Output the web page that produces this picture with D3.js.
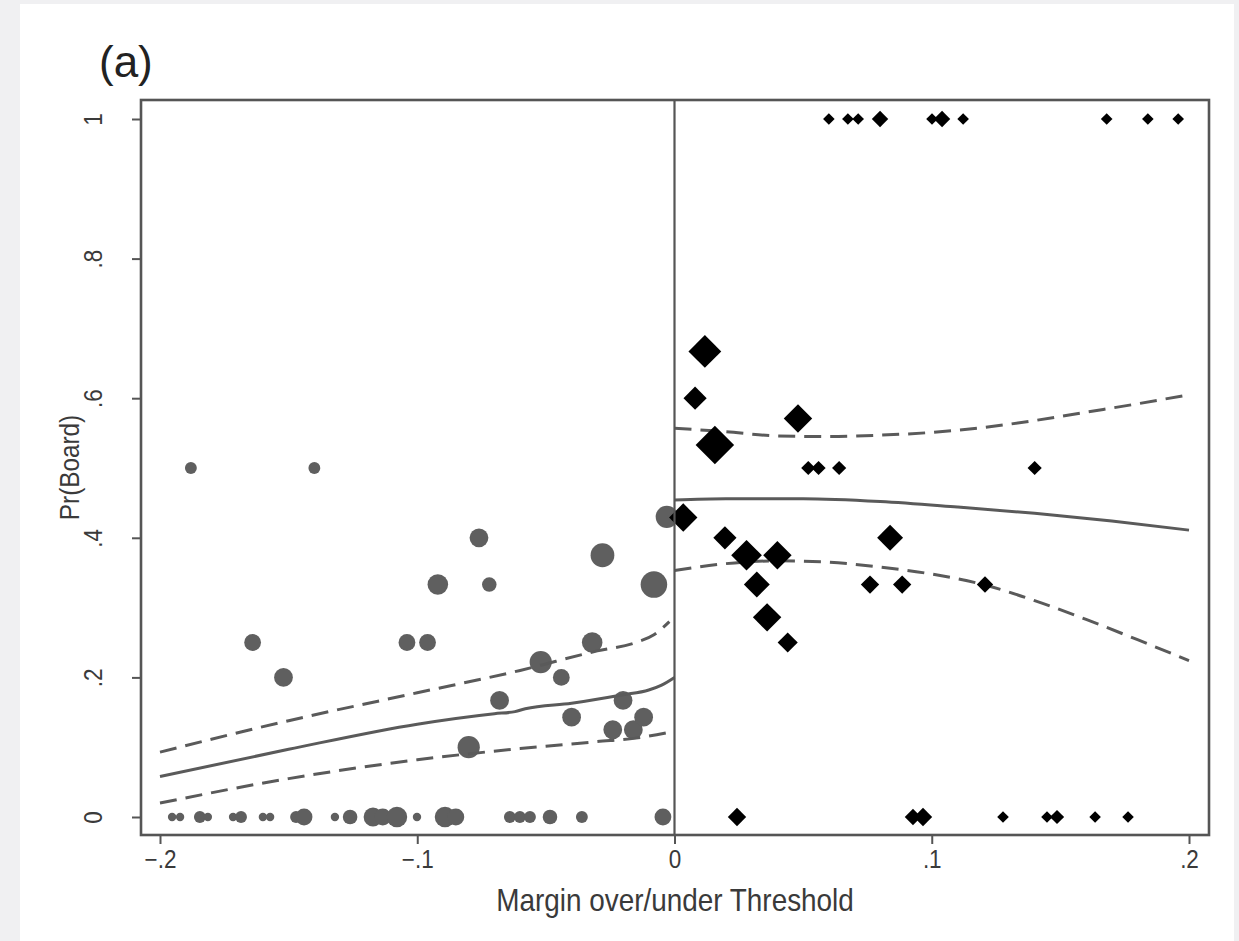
<!DOCTYPE html>
<html>
<head>
<meta charset="utf-8">
<script src="https://cdn.jsdelivr.net/npm/d3@7"></script>
<style>
  html, body { margin: 0; padding: 0; background: #f0f0f2; }
  svg { display: block; }
</style>
</head>
<body>
<svg id="chart" width="1239" height="941"></svg>
<script>
// Margin over/under threshold (x), share winning a board seat (y), and cell weight
// Below threshold (grey circles)
const belowX = [-0.188, -0.140, -0.076, -0.072, -0.092, -0.028, -0.008, -0.003,
  -0.164, -0.152, -0.104, -0.096, -0.032, -0.052, -0.044, -0.068, -0.040, -0.080,
  -0.024, -0.020, -0.016, -0.012,
  -0.1953, -0.1922, -0.1845, -0.1814, -0.1716, -0.1685, -0.1600, -0.1572, -0.1471, -0.1440,
  -0.1320, -0.1261, -0.1172, -0.1134, -0.1079, -0.1001, -0.0892, -0.0850, -0.0640, -0.0601,
  -0.0562, -0.0484, -0.0360, -0.0045];
const belowY = [0.5, 0.5, 0.4, 0.333, 0.333, 0.375, 0.333, 0.43,
  0.25, 0.2, 0.25, 0.25, 0.25, 0.222, 0.2, 0.167, 0.143, 0.1,
  0.125, 0.167, 0.125, 0.143,
  0, 0, 0, 0, 0, 0, 0, 0, 0, 0,
  0, 0, 0, 0, 0, 0, 0, 0, 0, 0,
  0, 0, 0, 0];
const belowW = [2, 2, 5, 3, 6, 8, 10, 7,
  4, 5, 4, 4, 6, 7, 4, 5, 5, 7,
  5, 5, 5, 5,
  1, 1, 2, 1, 1, 2, 1, 1, 2, 4,
  1, 3, 5, 4, 6, 1, 6, 4, 2, 2,
  2, 3, 2, 4];

// Above threshold (black diamonds)
const aboveX = [0.0600, 0.0674, 0.0714, 0.0799, 0.1001, 0.1040, 0.1122, 0.1680, 0.1840, 0.1958,
  0.0118, 0.0080, 0.0480, 0.0157, 0.0520, 0.0560, 0.0640, 0.1400,
  0.0034, 0.0196, 0.0280, 0.0400, 0.0320, 0.0360, 0.0440, 0.0838, 0.0760, 0.0885, 0.1207,
  0.0243, 0.0927, 0.0966, 0.1277, 0.1448, 0.1487, 0.1635, 0.1763];
const aboveY = [1, 1, 1, 1, 1, 1, 1, 1, 1, 1,
  0.667, 0.6, 0.571, 0.533, 0.5, 0.5, 0.5, 0.5,
  0.429, 0.4, 0.375, 0.375, 0.333, 0.286, 0.25, 0.4, 0.333, 0.333, 0.333,
  0, 0, 0, 0, 0, 0, 0, 0];
const aboveW = [1, 1, 1, 2, 1, 2, 1, 1, 1, 1,
  8, 4, 6, 11, 1.5, 1.5, 1.5, 1.5,
  6, 4, 7, 6, 5, 6, 3, 5, 2.5, 2.5, 2,
  2.5, 2, 2.5, 1, 1, 1.5, 1, 1];

// Local polynomial fits with 95% bands, left of the threshold
const fitLeftX  = [-0.2, -0.15, -0.1, -0.07, -0.062, -0.058, -0.04, -0.02, -0.01, -0.005, 0];
const fitLeftY  = [0.058, 0.097, 0.133, 0.148, 0.151, 0.155, 0.163, 0.175, 0.182, 0.189, 0.2];
const hiLeftX   = [-0.2, -0.15, -0.1, -0.06, -0.03, -0.015, -0.008, -0.002];
const hiLeftY   = [0.093, 0.138, 0.178, 0.210, 0.238, 0.250, 0.261, 0.280];
const loLeftX   = [-0.2, -0.15, -0.1, -0.06, -0.03, -0.015, 0];
const loLeftY   = [0.020, 0.055, 0.082, 0.098, 0.108, 0.113, 0.123];

// ... and right of the threshold
const fitRightX = [0, 0.02, 0.05, 0.08, 0.11, 0.14, 0.17, 0.2];
const fitRightY = [0.454, 0.456, 0.456, 0.452, 0.444, 0.435, 0.424, 0.411];
const hiRightX  = [0, 0.02, 0.04, 0.06, 0.08, 0.1, 0.12, 0.14, 0.16, 0.18, 0.2];
const hiRightY  = [0.557, 0.552, 0.546, 0.545, 0.547, 0.551, 0.558, 0.568, 0.580, 0.592, 0.605];
const loRightX  = [0, 0.02, 0.04, 0.06, 0.08, 0.1, 0.12, 0.14, 0.16, 0.18, 0.2];
const loRightY  = [0.353, 0.363, 0.367, 0.365, 0.358, 0.348, 0.333, 0.310, 0.283, 0.254, 0.224];

// Axis ticks
const xTicks = [-0.2, -0.1, 0, 0.1, 0.2];
const xTickLabels = ["\u2212.2", "\u2212.1", "0", ".1", ".2"];
const yTicks = [0, 0.2, 0.4, 0.6, 0.8, 1];
const yTickLabels = ["0", ".2", ".4", ".6", ".8", "1"];

const panelTitle = "(a)";
const xTitle = "Margin over/under Threshold";
const yTitle = "Pr(Board)";

// ---------------------------------------------------------------------------
const svg = d3.select("#chart");
const axisFont = "'Liberation Sans Narrow', 'Liberation Sans', Arial, sans-serif";
const narrow = 0.9;   // horizontal squeeze for the axis lettering
const ink = "#555";
const textInk = "#3a3a3a";

// white sheet
svg.append("rect").attr("x", 20).attr("y", 4).attr("width", 1214).attr("height", 941)
  .attr("fill", "#fff");

const x = d3.scaleLinear().domain([-0.2, 0.2]).range([160, 1189]);
const y = d3.scaleLinear().domain([0, 1]).range([817, 119]);

const frame = { left: 141, right: 1209, top: 100, bottom: 835 };

const zip = (xs, ys, ws) => xs.map((v, i) => ({ x: v, y: ys[i], w: ws[i] }));
const below = zip(belowX, belowY, belowW);
const above = zip(aboveX, aboveY, aboveW);

const rCircle = d3.scaleSqrt().domain([0, 1]).range([0, 4.2]);
const rDiamond = d3.scaleSqrt().domain([0, 1]).range([0, 5.8]);

const g = svg.append("g");

g.selectAll("circle.below").data(below).join("circle")
  .attr("class", "below")
  .attr("cx", d => x(d.x)).attr("cy", d => y(d.y))
  .attr("r", d => rCircle(d.w))
  .attr("fill", "#5f5f5f");

// fitted lines
const line = d3.line().x(d => x(d[0])).y(d => y(d[1])).curve(d3.curveMonotoneX);
const pairs = (xs, ys) => xs.map((v, i) => [v, ys[i]]);
const fits = [
  { d: pairs(fitLeftX, fitLeftY), dash: null },
  { d: pairs(hiLeftX, hiLeftY), dash: "17,9" },
  { d: pairs(loLeftX, loLeftY), dash: "17,9" },
  { d: pairs(fitRightX, fitRightY), dash: null },
  { d: pairs(hiRightX, hiRightY), dash: "17,9" },
  { d: pairs(loRightX, loRightY), dash: "17,9" }
];
g.selectAll("path.fit").data(fits).join("path")
  .attr("class", "fit")
  .attr("d", d => line(d.d))
  .attr("fill", "none")
  .attr("stroke", "#5a5a5a")
  .attr("stroke-width", 3)
  .attr("stroke-dasharray", d => d.dash);

g.selectAll("path.above").data(above).join("path")
  .attr("class", "above")
  .attr("d", d => {
    const cx = x(d.x), cy = y(d.y), h = rDiamond(d.w);
    return `M${cx},${cy - h}L${cx + h},${cy}L${cx},${cy + h}L${cx - h},${cy}Z`;
  })
  .attr("fill", "#000");

// threshold line
svg.append("line")
  .attr("x1", x(0)).attr("x2", x(0))
  .attr("y1", frame.top).attr("y2", frame.bottom)
  .attr("stroke", ink).attr("stroke-width", 2.2);

// frame
svg.append("rect")
  .attr("x", frame.left).attr("y", frame.top)
  .attr("width", frame.right - frame.left).attr("height", frame.bottom - frame.top)
  .attr("fill", "none").attr("stroke", ink).attr("stroke-width", 2.6);

// x axis
const xAxis = d3.axisBottom(x).tickValues(xTicks).tickSize(9).tickPadding(6)
  .tickFormat((d, i) => xTickLabels[i]);
const gx = svg.append("g").attr("transform", `translate(0,${frame.bottom})`).call(xAxis);
gx.select(".domain").remove();
gx.selectAll(".tick line").attr("stroke", ink).attr("stroke-width", 2);
gx.selectAll(".tick text").attr("font-family", axisFont).attr("font-size", 25)
  .attr("fill", textInk)
  .attr("transform", `scale(${narrow},1)`);

// y axis: labels turned to read bottom to top
const yAxis = d3.axisLeft(y).tickValues(yTicks).tickSize(9).tickPadding(0)
  .tickFormat((d, i) => yTickLabels[i]);
const gy = svg.append("g").attr("transform", `translate(${frame.left},0)`).call(yAxis);
gy.select(".domain").remove();
gy.selectAll(".tick line").attr("stroke", ink).attr("stroke-width", 2);
gy.selectAll(".tick text")
  .attr("font-family", axisFont).attr("font-size", 25).attr("fill", textInk)
  .attr("x", null).attr("dy", null)
  .attr("text-anchor", "middle")
  .attr("transform", `translate(-48,0) rotate(-90) scale(${narrow},1)`)
  .attr("dy", "0.35em");

// titles
svg.append("text")
  .attr("transform", `translate(${(frame.left + frame.right) / 2},911) scale(${narrow},1)`)
  .attr("text-anchor", "middle")
  .attr("font-family", axisFont).attr("font-size", 31).attr("fill", textInk)
  .text(xTitle);

svg.append("text")
  .attr("transform", `translate(79,${(frame.top + frame.bottom) / 2}) rotate(-90) scale(${narrow},1)`)
  .attr("text-anchor", "middle")
  .attr("font-family", axisFont).attr("font-size", 27).attr("fill", textInk)
  .text(yTitle);

svg.append("text")
  .attr("x", 99).attr("y", 77)
  .attr("font-family", "'Liberation Sans', Arial, sans-serif").attr("font-size", 44)
  .attr("fill", "#222")
  .text(panelTitle);
</script>
</body>
</html>
